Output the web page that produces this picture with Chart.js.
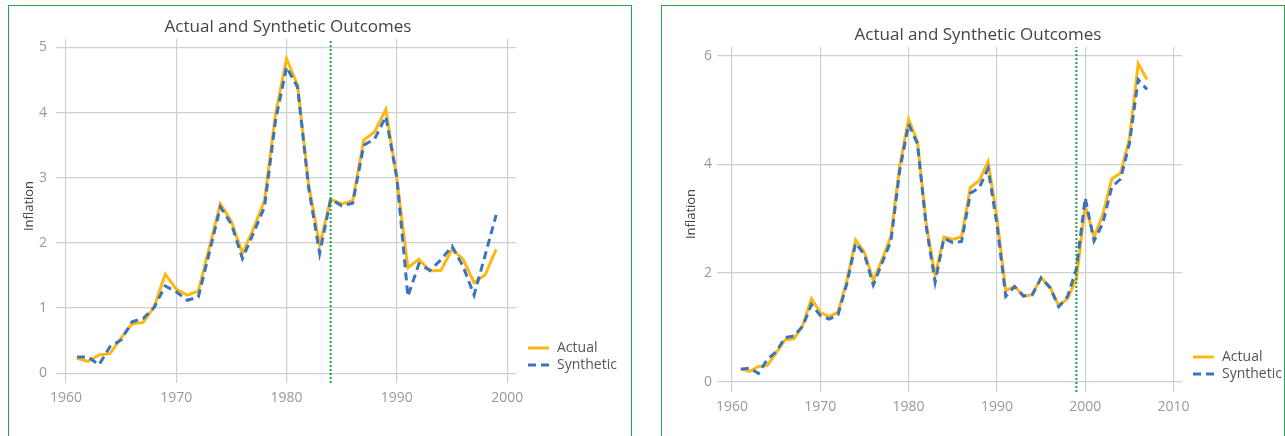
<!DOCTYPE html>
<html>
<head>
<meta charset="utf-8">
<script src="https://cdn.jsdelivr.net/npm/chart.js@4.4.1/dist/chart.umd.min.js"></script>
<style>
body { margin: 0; background: #fff; width: 1285px; height: 436px; overflow: hidden; position: relative; }
.panel { position: absolute; top: 5px; height: 445px; border: 1px solid #2a9d4f; border-bottom: none; box-sizing: border-box; }
canvas { position: absolute; top: 0; }
</style>
</head>
<body>
<div class="panel" style="left:8px;width:624px"></div>
<div class="panel" style="left:661px;width:624px"></div>
<canvas id="chartLeft" width="645" height="436" style="left:0px"></canvas>
<canvas id="chartRight" width="635" height="436" style="left:650px"></canvas>
<script>
// datos
const yearsLeft = [1961,1962,1963,1964,1965,1966,1967,1968,1969,1970,
  1971,1972,1973,1974,1975,1976,1977,1978,1979,1980,
  1981,1982,1983,1984,1985,1986,1987,1988,1989,1990,
  1991,1992,1993,1994,1995,1996,1997,1998,1999]
const actualLeft = [0.23,0.18,0.28,0.30,0.54,0.76,0.78,1.02,1.52,1.29,
  1.20,1.26,1.93,2.60,2.33,1.84,2.22,2.65,3.98,4.83,
  4.42,2.90,1.97,2.67,2.60,2.65,3.58,3.71,4.05,2.98,
  1.62,1.75,1.57,1.58,1.90,1.75,1.39,1.51,1.90]
const synthLeft = [0.25,0.25,0.13,0.41,0.51,0.79,0.84,1.01,1.34,1.25,
  1.12,1.17,1.85,2.55,2.29,1.76,2.15,2.55,3.88,4.70,
  4.39,2.85,1.84,2.67,2.57,2.61,3.50,3.60,3.94,3.00,
  1.18,1.68,1.58,1.74,1.95,1.64,1.20,1.81,2.43]

const yearsRight = [1961,1962,1963,1964,1965,1966,1967,1968,1969,1970,
  1971,1972,1973,1974,1975,1976,1977,1978,1979,1980,
  1981,1982,1983,1984,1985,1986,1987,1988,1989,1990,
  1991,1992,1993,1994,1995,1996,1997,1998,1999,2000,
  2001,2002,2003,2004,2005,2006,2007]
const actualRight = [0.24,0.19,0.28,0.30,0.53,0.77,0.79,1.03,1.53,1.27,
  1.20,1.28,1.85,2.61,2.38,1.86,2.25,2.68,3.98,4.83,
  4.42,2.90,1.95,2.66,2.62,2.67,3.58,3.70,4.05,3.02,
  1.67,1.76,1.57,1.60,1.91,1.75,1.40,1.53,1.89,3.24,
  2.66,3.08,3.73,3.84,4.47,5.85,5.56]
const synthRight = [0.23,0.25,0.15,0.41,0.55,0.81,0.84,1.02,1.42,1.22,
  1.15,1.23,1.80,2.55,2.34,1.78,2.19,2.59,3.90,4.74,
  4.38,2.85,1.83,2.64,2.56,2.58,3.47,3.57,3.92,2.90,
  1.57,1.75,1.58,1.60,1.91,1.73,1.38,1.57,2.08,3.38,
  2.59,2.92,3.58,3.73,4.38,5.56,5.38]

const treatLeft = 1984
const treatRight = 1999
const xTicksLeft = [1960,1970,1980,1990,2000]
const xTicksRight = [1960,1970,1980,1990,2000,2010]
const yTicksLeft = [0,1,2,3,4,5]
const yTicksRight = [0,2,4,6]

const FUENTE = "'Open Sans', 'Noto Sans', sans-serif"

function puntos(xs, ys){
    return xs.map((x, i) => ({x: x, y: ys[i]}))
}

// titulo, etiqueta del eje y y leyenda dibujados a mano
const decoraciones = {
    id: 'decoraciones',
    afterDraw(chart, args, opts){
        const ctx = chart.ctx
        ctx.save()
        ctx.fillStyle = '#444'
        ctx.font = '17px ' + FUENTE
        ctx.textAlign = 'center'
        ctx.textBaseline = 'middle'
        ctx.fillText(opts.titulo, opts.tituloX, opts.tituloY)

        ctx.save()
        ctx.translate(opts.ejeX, opts.ejeY)
        ctx.rotate(-Math.PI/2)
        ctx.font = '13px ' + FUENTE
        ctx.fillText('Inflation', 0, 0)
        ctx.restore()

        ctx.textAlign = 'left'
        ctx.font = '14px ' + FUENTE
        chart.data.datasets.slice(0, 2).forEach((ds, i) => {
            const y = opts.leyY + i * opts.leyDy
            ctx.strokeStyle = ds.borderColor
            ctx.lineWidth = 3
            ctx.setLineDash(ds.borderDash || [])
            ctx.beginPath()
            ctx.moveTo(opts.leyX, y)
            ctx.lineTo(opts.leyX + 21, y)
            ctx.stroke()
            ctx.setLineDash([])
            ctx.fillStyle = '#555'
            ctx.fillText(ds.label, opts.leyX + 29, y)
        })
        ctx.restore()
    }
}

function generarGrafico(idCanvas, cfg){
    const lienzo = document.getElementById(idCanvas)
    return new Chart(lienzo, {
        type: 'line',
        data: {
            datasets: [{
                label: 'Actual',
                data: puntos(cfg.years, cfg.actual),
                borderColor: '#fdb813',
                borderWidth: 3,
                pointRadius: 0,
                tension: 0,
                order: 2
            }, {
                label: 'Synthetic',
                data: puntos(cfg.years, cfg.synth),
                borderColor: '#3a74c0',
                borderWidth: 3,
                borderDash: [8, 5],
                pointRadius: 0,
                tension: 0,
                order: 1
            }, {
                label: 'Treatment',
                data: [{x: cfg.treat, y: cfg.yMin}, {x: cfg.treat, y: cfg.yMax}],
                borderColor: '#1e9a4a',
                borderWidth: 2,
                borderDash: [2, 2],
                pointRadius: 0,
                order: 0
            }]
        },
        options: {
            responsive: false,
            animation: false,
            layout: { padding: cfg.padding },
            plugins: {
                legend: { display: false },
                tooltip: { enabled: false },
                decoraciones: cfg.deco
            },
            scales: {
                x: {
                    type: 'linear',
                    min: cfg.xMin,
                    max: cfg.xMax,
                    afterBuildTicks: s => { s.ticks = cfg.xTicks.map(v => ({value: v})) },
                    afterFit: s => { s.height = cfg.xAltura },
                    grid: { color: '#cfcfcf', lineWidth: 1.2, drawTicks: false },
                    border: { display: false },
                    ticks: {
                        color: '#999',
                        font: { family: FUENTE, size: 14 },
                        padding: 7,
                        maxRotation: 0,
                        callback: v => String(v)
                    }
                },
                y: {
                    type: 'linear',
                    min: cfg.yMin,
                    max: cfg.yMax,
                    afterBuildTicks: s => { s.ticks = cfg.yTicks.map(v => ({value: v})) },
                    afterFit: s => { s.width = cfg.yAncho },
                    grid: { color: '#cfcfcf', lineWidth: 1.2, drawTicks: false },
                    border: { display: false },
                    ticks: {
                        color: '#999',
                        font: { family: FUENTE, size: 14 },
                        padding: cfg.yPad,
                        callback: v => String(v)
                    }
                }
            }
        },
        plugins: [decoraciones]
    })
}

generarGrafico('chartLeft', {
    years: yearsLeft, actual: actualLeft, synth: synthLeft, treat: treatLeft,
    xMin: 1959.1, xMax: 2000.8, yMin: -0.15, yMax: 5.13,
    xTicks: xTicksLeft, yTicks: yTicksLeft,
    padding: { left: 0, top: 39, right: 129, bottom: 0 },
    yAncho: 56, xAltura: 53, yPad: 9,
    deco: { titulo: 'Actual and Synthetic Outcomes', tituloX: 288, tituloY: 27,
        ejeX: 29, ejeY: 206, leyX: 528, leyY: 348, leyDy: 17 }
})

generarGrafico('chartRight', {
    years: yearsRight, actual: actualRight, synth: synthRight, treat: treatRight,
    xMin: 1958.3, xMax: 2010.96, yMin: -0.19, yMax: 6.16,
    xTicks: xTicksRight, yTicks: yTicksRight,
    padding: { left: 0, top: 47, right: 103, bottom: 0 },
    yAncho: 67, xAltura: 44, yPad: 5,
    deco: { titulo: 'Actual and Synthetic Outcomes', tituloX: 328, tituloY: 35,
        ejeX: 41, ejeY: 214, leyX: 543, leyY: 357, leyDy: 17 }
})
</script>
</body>
</html>
